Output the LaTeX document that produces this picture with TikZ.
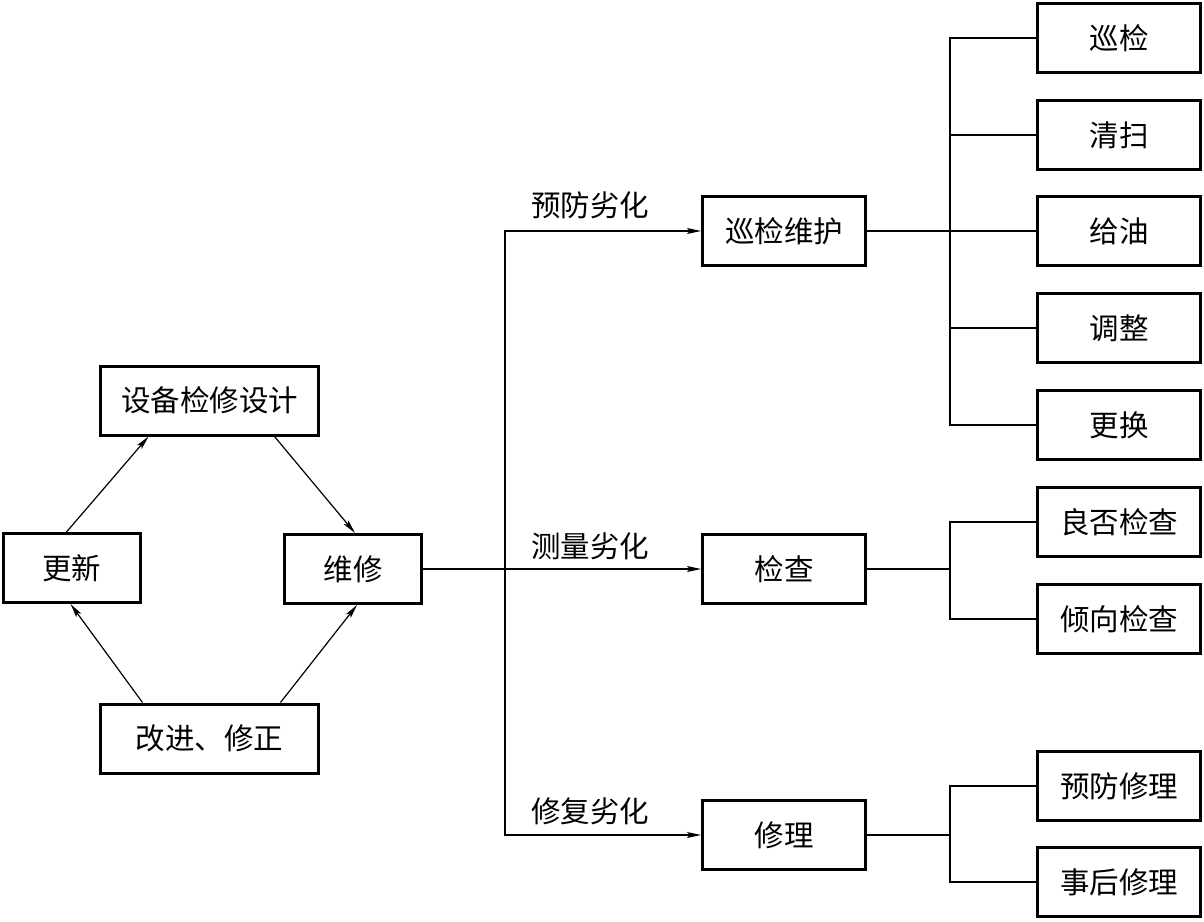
\documentclass[tikz,border=0pt]{standalone}
\usepackage{fontspec}
\setmainfont{Noto Sans CJK SC}
\usetikzlibrary{arrows.meta,calc}
\begin{document}
\begin{tikzpicture}[x=1pt,y=-1pt,
  box/.style={draw,line width=3pt,inner sep=0pt,font=\fontsize{29.5}{29.5}\selectfont,minimum height=69pt},
  wbox/.style={box,minimum width=218pt},
  mbox/.style={box,minimum width=137pt},
  rbox/.style={box,minimum width=163pt},
  ln/.style={line width=1.2pt},
  arr/.style={ln,-{Stealth[length=14pt,width=6pt,inset=3pt]}},
  lab/.style={font=\fontsize{29.5}{29.5}\selectfont,inner sep=0pt}]
\useasboundingbox (0,0) rectangle (1204,921);
\node[wbox] (sj) at (209.5,400.5) {设备检修设计};
\node[mbox] (gx) at (71.5,568) {更新};
\node[mbox] (wx) at (353,569) {维修};
\node[wbox] (gj) at (209.5,738.5) {改进、修正};
\node[rbox] (xw) at (784,231) {巡检维护};
\node[rbox] (jc) at (784,569) {检查};
\node[rbox] (xl) at (784,835) {修理};
\node[rbox] (r1) at (1119,38) {巡检};
\node[rbox] (r2) at (1119,135) {清扫};
\node[rbox] (r3) at (1119,231) {给油};
\node[rbox] (r4) at (1119,328) {调整};
\node[rbox] (r5) at (1119,425) {更换};
\node[rbox] (r6) at (1119,522) {良否检查};
\node[rbox] (r7) at (1119,619) {倾向检查};
\node[rbox] (r8) at (1119,786) {预防修理};
\node[rbox] (r9) at (1119,882) {事后修理};
\node[lab] (l1) at (590,205) {预防劣化};
\node[lab] (l2) at (590,546) {测量劣化};
\node[lab] (l3) at (590,811) {修复劣化};
% cycle arrows
\draw[arr] ($(gx.north)+(-5,0)$) -- ($(sj.south)+(-61,0)$);
\draw[arr] ($(sj.south)+(65,0)$) -- ($(wx.north)+(2,0)$);
\draw[arr] ($(gj.north)+(-67,0)$) -- ($(gx.south)+(-1,0)$);
\draw[arr] ($(gj.north)+(71,0)$) -- ($(wx.south)+(4,0)$);
% trunk
\coordinate (t) at (505,569);
\draw[ln] (wx.east) -- (t);
\draw[arr] (t) |- (xw.west);
\draw[arr] (t) -- (jc.west);
\draw[arr] (t) |- (xl.west);
% right buses
\coordinate (b1) at (950,231);
\coordinate (b2) at (950,569);
\coordinate (b3) at (950,835);
\draw[ln] (xw.east) -- (r3.west);
\draw[ln] (r1.west) -| (b1) |- (r5.west);
\draw[ln] (b1) |- (r2.west);
\draw[ln] (b1) |- (r4.west);
\draw[ln] (jc.east) -- (b2);
\draw[ln] (r6.west) -| (b2) |- (r7.west);
\draw[ln] (xl.east) -- (b3);
\draw[ln] (r8.west) -| (b3) |- (r9.west);
\end{tikzpicture}
\end{document}
